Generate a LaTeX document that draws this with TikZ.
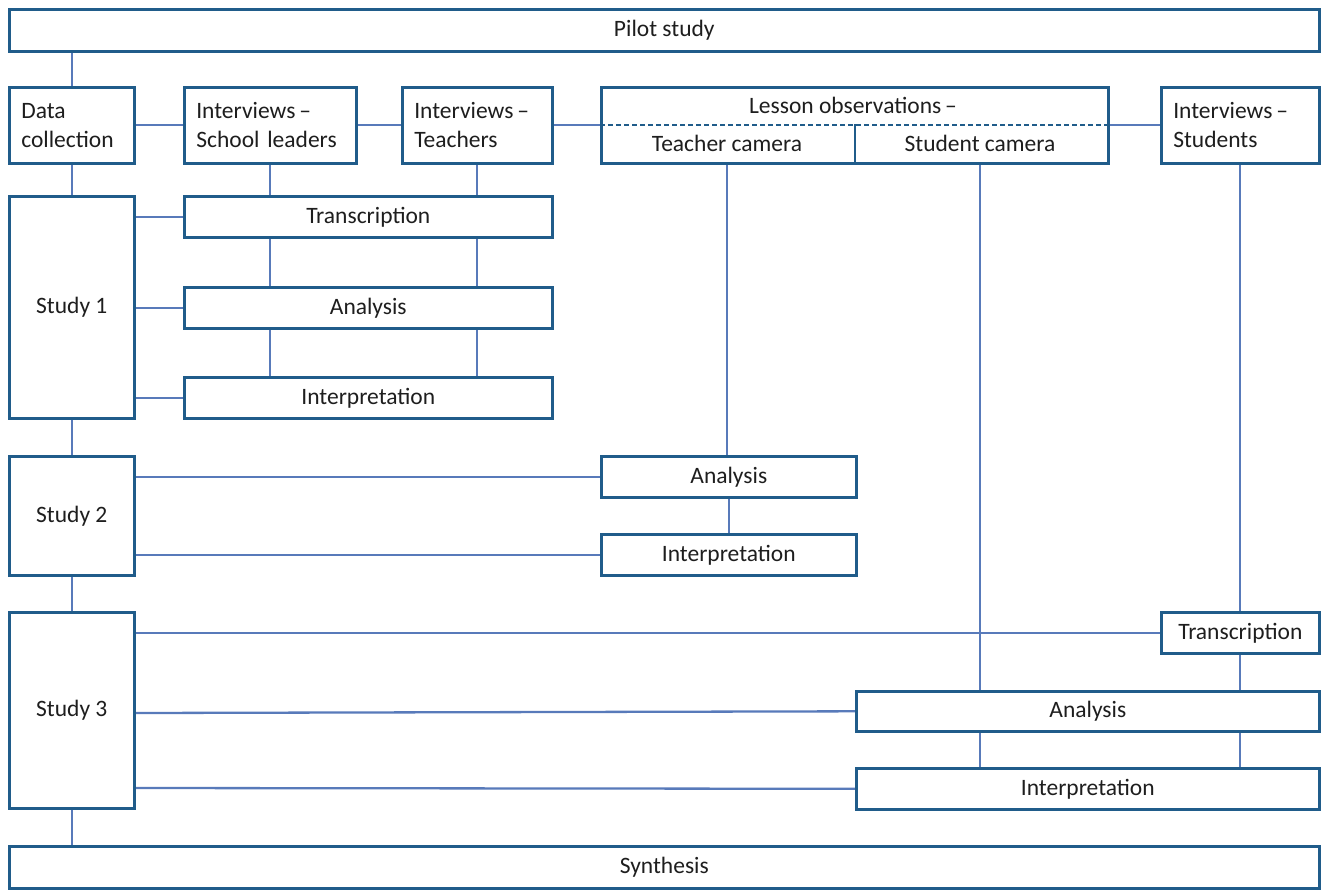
\documentclass[tikz,border=0pt]{standalone}
\usepackage{fontspec}
\setmainfont{Carlito}
\usetikzlibrary{backgrounds}
\definecolor{boxline}{RGB}{32,92,138}
\definecolor{linkline}{RGB}{88,122,186}
\definecolor{ink}{RGB}{30,30,30}
\begin{document}
\begin{tikzpicture}[x=1pt,y=-1pt,
  box/.style={draw=boxline, line width=2.6pt, fill=white, inner sep=0pt,
    anchor=north west, text=ink,
    font=\fontsize{23.5}{29}\selectfont},
  lbox/.style={box, align=left, inner xsep=12pt},
  plain/.style={inner sep=0pt, text=ink, font=\fontsize{23.5}{29}\selectfont},
  link/.style={draw=linkline, line width=2.3pt}]
\useasboundingbox (0,0) rectangle (1322,889);

% top and bottom bars
\node[box, minimum width=1310pt, minimum height=42pt] (pilot) at (8,8) {Pilot study};
\node[box, minimum width=1310pt, minimum height=42pt] (synth) at (8,845) {Synthesis};

% data collection row
\node[lbox, minimum width=125pt, minimum height=76pt, text width=101pt] (dc) at (8,86) {Data\\collection};
\node[lbox, minimum width=172pt, minimum height=76pt, text width=148pt] (sl) at (183,86) {Interviews\,–\\School leaders};
\node[lbox, minimum width=150pt, minimum height=76pt, text width=126pt] (tch) at (401,86) {Interviews\,–\\Teachers};
\node[box, minimum width=507pt, minimum height=76pt] (lo) at (600,86) {};
\node[lbox, minimum width=158pt, minimum height=76pt, text width=134pt] (stu) at (1160,86) {Interviews\,–\\Students};

% lesson observations: heading, dashed split and two camera halves
\node[plain] (lohead) at (853,105) {Lesson observations\,–};
\node[plain] (tcam) at (727,143) {Teacher camera};
\node[plain] (scam) at (980,143) {Student camera};
\draw[draw=boxline, line width=1.8pt, dash pattern=on 5pt off 3pt] (lo.west) -- (lo.east);
\draw[draw=boxline, line width=2.6pt] (855,124) -- (lo.south -| 855,0);

% study boxes
\node[box, minimum width=125pt, minimum height=222pt] (s1) at (8,195) {Study 1};
\node[box, minimum width=125pt, minimum height=119pt] (s2) at (8,455) {Study 2};
\node[box, minimum width=125pt, minimum height=196pt] (s3) at (8,611) {Study 3};

% study 1 steps
\node[box, minimum width=368pt, minimum height=41pt] (tr1) at (183,195) {Transcription};
\node[box, minimum width=368pt, minimum height=41pt] (an1) at (183,286) {Analysis};
\node[box, minimum width=368pt, minimum height=41pt] (in1) at (183,376) {Interpretation};

% study 2 steps
\node[box, minimum width=255pt, minimum height=41pt] (an2) at (600,455) {Analysis};
\node[box, minimum width=255pt, minimum height=41pt] (in2) at (600,533) {Interpretation};

% study 3 steps
\node[box, minimum width=158pt, minimum height=41pt] (tr3) at (1160,611) {Transcription};
\node[box, minimum width=463pt, minimum height=40pt] (an3) at (855,690) {Analysis};
\node[box, minimum width=463pt, minimum height=41pt] (in3) at (855,767) {Interpretation};

\begin{scope}[on background layer]
  % left spine
  \draw[link] (pilot.south -| dc) -- (dc.north);
  \draw[link] (dc.south) -- (s1.north);
  \draw[link] (s1.south) -- (s2.north);
  \draw[link] (s2.south) -- (s3.north);
  \draw[link] (s3.south) -- (synth.north -| s3);
  % data collection row
  \draw[link] (dc.east) -- (sl.west);
  \draw[link] (sl.east) -- (tch.west);
  \draw[link] (tch.east) -- (lo.west);
  \draw[link] (lo.east) -- (stu.west);
  % study 1
  \draw[link] (s1.east |- tr1.west) -- (tr1.west);
  \draw[link] (s1.east |- an1.west) -- (an1.west);
  \draw[link] (s1.east |- in1.west) -- (in1.west);
  \draw[link] (sl.south) -- (sl.south |- tr1.north);
  \draw[link] (tch.south) -- (tch.south |- tr1.north);
  \draw[link] (tr1.south -| sl) -- (an1.north -| sl);
  \draw[link] (tr1.south -| tch) -- (an1.north -| tch);
  \draw[link] (an1.south -| sl) -- (in1.north -| sl);
  \draw[link] (an1.south -| tch) -- (in1.north -| tch);
  % study 2
  \draw[link] (lo.south -| tcam) -- (an2.north -| tcam);
  \draw[link] (s2.east |- an2.west) -- (an2.west);
  \draw[link] (s2.east |- in2.west) -- (in2.west);
  \draw[link] (an2.south) -- (in2.north);
  % study 3
  \draw[link] (lo.south -| scam) -- (an3.north -| scam);
  \draw[link] (stu.south -| 1240,0) -- (tr3.north -| 1240,0);
  \draw[link] (s3.east |- tr3.west) -- (tr3.west);
  \draw[link] (tr3.south -| 1240,0) -- (an3.north -| 1240,0);
  \draw[link] (s3.east |- 0,713) -- (an3.west);
  \draw[link] (s3.east |- 0,788) -- (in3.west);
  \draw[link] (an3.south -| scam) -- (in3.north -| scam);
  \draw[link] (an3.south -| 1240,0) -- (in3.north -| 1240,0);
\end{scope}
\end{tikzpicture}
\end{document}
